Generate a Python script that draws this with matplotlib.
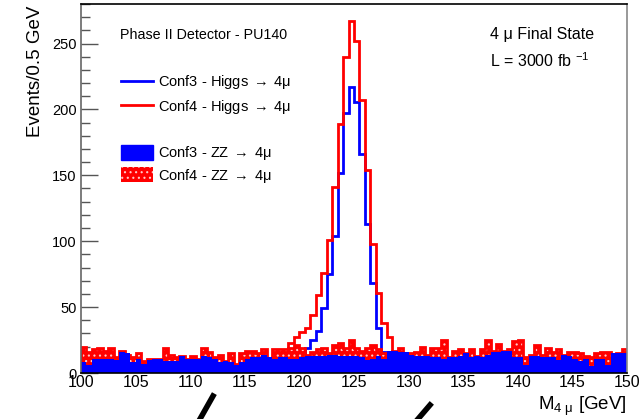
import numpy as np
import matplotlib
matplotlib.use("Agg")
import matplotlib.pyplot as plt
from matplotlib.lines import Line2D
from matplotlib.patches import Patch

plt.rcParams['font.family'] = ['Liberation Sans', 'DejaVu Sans']
plt.rcParams['mathtext.fontset'] = 'custom'
plt.rcParams['mathtext.rm'] = 'Liberation Sans'
plt.rcParams['mathtext.it'] = 'Liberation Sans:italic'
plt.rcParams['hatch.linewidth'] = 0.8

# binning: 0.5 GeV bins from 100 to 150 GeV
m_lo, m_hi, bin_w = 100.0, 150.0, 0.5

# Higgs -> 4mu signal, bins starting at 118.0 GeV (zero outside this window)
higgs_start = 118.0
higgs_conf3 = [2, 4, 6, 9, 12, 19, 25, 32, 49, 75, 104, 152, 197, 217, 206,
               166, 113, 68, 34, 16, 8, 4, 2]
higgs_conf4 = [6, 12, 23, 27, 31, 34, 44, 59, 76, 101, 141, 189, 240, 267, 252,
               207, 154, 98, 61, 38, 27, 16, 8]

# ZZ -> 4mu background, 100 bins
zz_conf3 = [8, 6, 11, 11, 11, 11, 10, 16, 15, 8,
            11, 7, 10, 11, 11, 9, 9, 9, 13, 11,
            11, 11, 13, 12, 11, 8, 9, 8, 6, 8,
            11, 12, 12, 14, 12, 11, 12, 12, 11, 11,
            12, 13, 13, 13, 13, 14, 14, 13, 13, 13,
            13, 12, 10, 11, 13, 11, 17, 17, 16, 16,
            14, 13, 13, 13, 12, 12, 11, 12, 12, 13,
            15, 12, 13, 12, 14, 16, 16, 17, 17, 12,
            12, 6, 13, 13, 12, 12, 12, 10, 14, 13,
            11, 9, 11, 5, 11, 11, 6, 15, 15, 15]
zz_conf4 = [20, 16, 18, 19, 17, 19, 12, 17, 14, 12,
            15, 9, 11, 11, 11, 19, 14, 12, 13, 11,
            13, 11, 19, 16, 12, 14, 9, 15, 7, 15,
            17, 17, 15, 18, 8, 18, 18, 18, 19, 21,
            19, 14, 16, 18, 19, 15, 21, 23, 19, 25,
            19, 17, 19, 21, 18, 15, 14, 17, 19, 15,
            15, 16, 20, 14, 19, 19, 25, 12, 17, 18,
            15, 18, 13, 18, 25, 17, 22, 17, 18, 24,
            25, 12, 14, 21, 14, 19, 16, 18, 14, 16,
            16, 15, 13, 12, 15, 16, 16, 14, 15, 18]

edges = np.arange(m_lo, m_hi + bin_w / 2, bin_w)
nbins = len(edges) - 1
i0 = int(round((higgs_start - m_lo) / bin_w))
h3 = np.zeros(nbins)
h4 = np.zeros(nbins)
h3[i0:i0 + len(higgs_conf3)] = higgs_conf3
h4[i0:i0 + len(higgs_conf4)] = higgs_conf4

fig = plt.figure(figsize=(6.41, 4.19), dpi=100)
ax = fig.add_axes([81 / 641, 46 / 419, 546 / 641, 369 / 419])

# signal lines first, background fills drawn over them
ax.stairs(h3, edges, color='#0000ff', lw=2, zorder=2)
ax.stairs(h4, edges, color='#ff0000', lw=2, zorder=2)
ax.stairs(zz_conf4, edges, fill=True, facecolor='#ff0000', edgecolor='#ffc8c8',
          hatch='...', lw=0, zorder=3)
ax.stairs(zz_conf4, edges, color='#ff0000', lw=2, zorder=3)
ax.stairs(zz_conf3, edges, fill=True, color='#0000ff', lw=0, zorder=4)

ax.set_xlim(m_lo, m_hi)
ax.set_ylim(0, 280)
ax.set_xticks(np.arange(100, 151, 5))
ax.set_yticks(np.arange(0, 251, 50))
ax.set_yticks(np.arange(0, 281, 10), minor=True)
ax.tick_params(axis='y', which='major', direction='in', length=12, width=1,
               color='#555555', labelsize=10.5, pad=3)
ax.tick_params(axis='y', which='minor', direction='in', length=6.5, width=1,
               color='#555555')
ax.tick_params(axis='x', which='both', length=0, labelsize=11.5, pad=1.5)

ax.spines['left'].set_color('#666666')
ax.spines['right'].set_color('#888888')
ax.spines['top'].set_color('black')
ax.spines['bottom'].set_color('black')
for s in ax.spines.values():
    s.set_linewidth(1.2)
    s.set_zorder(5)

fig.text(35 / 641, 1 - 6 / 419, 'Events/0.5 GeV', rotation=90, ha='center',
         va='top', fontsize=13.5)
fig.text(627 / 641, 1 - 406 / 419, r'M$_{4\ \mathrm{\mu}}$ [GeV]', ha='right',
         va='center', fontsize=13.5)

ax.text(0.071, 0.916, 'Phase II Detector - PU140', transform=ax.transAxes,
        fontsize=10.3, va='center', ha='left')
ax.text(0.749, 0.916, '4 μ Final State', transform=ax.transAxes,
        fontsize=11.5, va='center', ha='left')
ax.text(0.749, 0.846, r'L = 3000 fb $^{-1}$', transform=ax.transAxes,
        fontsize=11.5, va='center', ha='left')

arrow = r'$\;\rightarrow\;$'
leg_kw = dict(loc='upper left', frameon=False, fontsize=10.5, borderpad=0,
              borderaxespad=0, handlelength=2.2, handletextpad=0.35)

sig_handles = [Line2D([], [], color='#0000ff', lw=2),
               Line2D([], [], color='#ff0000', lw=2)]
sig_labels = [f'Conf3 - Higgs{arrow}4μ', f'Conf4 - Higgs{arrow}4μ']
leg1 = ax.legend(sig_handles, sig_labels, bbox_to_anchor=(0.073, 0.812),
                 handleheight=1.0, labelspacing=0.45, **leg_kw)
ax.add_artist(leg1)

bkg_handles = [Patch(facecolor='#0000ff', edgecolor='#0000ff'),
               Patch(facecolor='#ff0000', edgecolor='#ffc8c8', hatch='...', lw=0)]
bkg_labels = [f'Conf3 - ZZ{arrow}4μ', f'Conf4 - ZZ{arrow}4μ']
ax.legend(bkg_handles, bkg_labels, bbox_to_anchor=(0.073, 0.620),
          handleheight=1.2, labelspacing=0.3, **leg_kw)

# pen strokes below the frame
fig.add_artist(Line2D([213 / 641, 200 / 641], [1 - 396 / 419, 0], color='black',
                      lw=4, transform=fig.transFigure))
fig.add_artist(Line2D([430 / 641, 418 / 641], [1 - 405 / 419, 0], color='black',
                      lw=4, transform=fig.transFigure))

fig.savefig('out.png', dpi=100)
